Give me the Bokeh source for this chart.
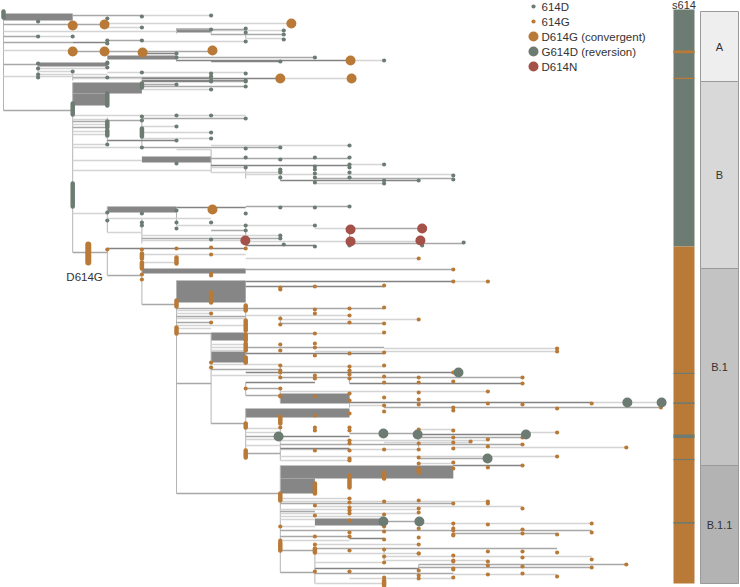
from bokeh.plotting import figure
from bokeh.models import Range1d, ColumnDataSource
from bokeh.embed import file_html
from bokeh.resources import INLINE
from bokeh.core.properties import value

# ---------------- data (x = mutations from root, y = tip order row) ----------------
blocks = [  # y0, y1, x0, x1  (dense polytomy bundles)
    (13, 20, 0, 2), (28, 32, 5, 6), (55, 59, 3, 5), (62, 66, 1, 3), (82, 93, 2, 4),
    (93, 105, 2, 3), (156, 162, 4, 6), (206, 212, 3, 5), (268, 273, 4, 7),
    (280, 302, 5, 7), (332, 340, 6, 7), (351, 362, 6, 7), (393, 403, 8, 10),
    (408, 417, 7, 10), (465, 478, 8, 13), (478, 493, 8, 9), (518, 525, 9, 11),
]

branches = [  # y, x0, x1, shade (0 light, 1 mid, 2 dark)
    # clade A
    (15, 2, 4, 1), (15, 4, 6, 0), (24, 0, 2, 1), (24, 2, 2.92, 1), (23, 2.92, 8.32, 0),
    (27, 2.92, 4, 0), (31, 0, 5, 0), (30, 6, 8.1, 0), (34, 6, 8.1, 1), (38, 7, 8.1, 0),
    (29, 5, 7, 1), (36, 0, 1, 1), (36, 1, 2, 0), (42, 0, 2, 1), (42, 2, 3, 2),
    (40, 3, 4, 1), (41, 4, 7, 0), (50, 0, 1, 0), (50, 1, 2, 0), (51, 2, 2.92, 1),
    (51, 2.92, 4, 1), (51, 4, 6, 1), (53, 4, 5, 2), (57, 5, 9, 1), (60, 5, 10, 2),
    (60, 10, 11, 0), (61, 6, 8, 2), (64, 0, 1, 1), (68, 1, 3, 0), (71, 1, 2, 0),
    (74, 1, 3, 0), (72, 3, 7, 0), (76, 0, 2, 0), (77, 2, 6, 1), (78, 2, 4, 0),
    (78, 4, 8, 2), (78, 8, 10.06, 0), (80, 4, 7, 2),
    # clade B
    (110, 0, 2, 1), (84, 4, 5, 1), (81, 4, 6, 2), (81, 6, 7, 1), (86, 4, 7, 1), (89, 4, 6, 0),
    (115, 2, 4, 0), (115, 4, 7, 0), (118, 4, 7, 1), (119, 2, 3, 0), (121, 2, 3, 1),
    (124, 2, 3, 0), (127, 2, 3, 1), (131, 2, 3, 0), (134, 2, 3, 0), (144, 2, 3, 0),
    (120, 3, 4, 1), (126, 4, 5, 0), (132, 4, 6, 0), (138, 4, 6, 0), (140, 3, 5, 2),
    (147, 2, 4, 0), (147, 4, 8, 1), (149, 5, 6, 0), (145, 6, 10, 0), (158, 6, 10, 1),
    (160, 2, 4, 0), (165, 6, 10, 2), (164, 10, 11, 0), (167, 6, 7, 0), (172, 6, 8, 0),
    (170, 2, 6, 0), (174, 7, 13, 0), (178, 9, 13, 1), (180, 8, 12, 2), (183, 9, 11, 0),
    (213, 2, 3, 0), (207, 5, 7, 2), (206, 7, 10, 1), (218, 3, 6, 0), (225, 5, 9, 0),
    (228, 9, 10.03, 0), (228, 10.03, 12.1, 1), (230, 6, 7, 1), (232, 3, 4, 0),
    (235, 4, 8, 0), (238, 4, 8, 1), (240, 4, 6.99, 0), (241, 6.99, 10.03, 0),
    (241, 10.03, 12.05, 0), (243, 10, 13.3, 1), (245, 7, 9, 2),
    # clade B.1
    (252, 2, 3, 1), (248, 3, 7, 2), (254, 4, 7, 0), (258, 7, 12, 0), (262, 4, 5, 0),
    (269, 7, 13, 1), (275, 3, 4, 1), (281, 7, 13, 2), (281, 13, 14, 0), (286, 7, 11, 2),
    (304, 4, 5, 1), (308, 5, 7, 1), (313, 5, 6, 0), (318, 5, 7, 0), (322, 5, 6, 1),
    (310, 5, 7, 0), (316, 5, 7, 1), (325, 5, 7, 0), (328, 5, 6, 0),
    (308, 7, 11, 1), (315, 7, 10, 0), (319, 8, 12, 0), (323, 8, 11, 1), (333, 5, 6, 1),
    (333, 7, 9, 1), (333, 9, 11, 0), (344, 6, 7, 0), (347, 6, 7, 0), (350, 6, 7, 0),
    (347, 7, 11, 1), (348, 11, 16, 0), (351, 9, 16, 0), (353, 7, 11, 2), (366, 8, 11, 0),
    (364, 6, 8, 0), (369, 6, 8, 1), (375, 6, 8, 0),
    (372, 7, 13.15, 2), (377, 8, 15, 1), (383, 10, 15, 2), (383, 5, 6, 1), (382, 7, 9, 2),
    (388, 7, 8, 1), (391, 8, 14, 0), (395, 7, 8, 1), (402, 10, 17, 2), (402, 17, 18.03, 0),
    (402, 18.03, 19.02, 0), (407, 11, 19, 1), (405, 10, 11, 0), (423, 6, 7, 1),
    (428, 7, 8, 0), (432, 7, 8, 0), (436, 7, 7.95, 1), (436, 7.95, 10, 2),
    (433, 10, 10.98, 1), (433, 10.98, 12, 1), (429, 12, 13, 0), (434, 12, 15.1, 2),
    (432, 15.1, 16, 0), (437, 12, 15, 1), (440, 8, 14, 0), (442, 11, 13.5, 0),
    (444, 8, 15, 1), (447, 13, 18, 0), (449, 8, 12, 0), (448, 8, 10, 2), (456, 8, 16, 0),
    (458, 12, 14, 1), (460, 8, 10, 0), (439, 7, 8, 0), (445, 7, 8, 0), (453, 7, 8, 1),
    # clade B.1.1
    (493, 5, 8, 1), (465, 13, 15, 2), (463, 12, 13, 0), (501, 8, 14, 0), (503, 8, 13, 1),
    (506, 9, 15, 0), (509, 8, 12, 0), (513, 8, 12, 0), (516, 8, 11, 0),
    (521, 10.98, 12.02, 1), (523, 12, 17, 0), (530, 8, 17, 1), (533, 13, 16, 1),
    (538, 10, 11, 2), (526, 8, 9, 0), (536, 8, 10, 1), (540, 8, 10, 0), (550, 8, 9, 1),
    (548, 9, 16, 1), (556, 11, 17, 0), (560, 11, 14, 0), (564, 12, 18, 1),
    (568, 9, 12, 2), (567, 12, 17, 1), (572, 8, 9, 1), (573, 9, 13, 1),
    (574, 13, 16, 0), (578, 10, 13, 0), (583, 9, 11, 0), (498, 8, 10, 0), (511, 8, 9, 1),
    (519, 8, 9, 0), (544, 9, 12, 0), (553, 9, 12, 0), (562, 9, 11, 0),
]

connectors = [  # x, y0, y1
    (0, 12, 110), (2.92, 23, 27), (5, 28, 33), (6, 29, 34), (7, 28, 38), (3, 40, 43),
    (4, 51, 53), (5, 53, 61), (1, 62, 77), (2, 72, 80), (4, 78, 80),
    (2, 82, 252), (4, 81, 89), (3, 117, 144), (4, 115, 147), (6, 149, 172),
    (8, 169, 180), (7, 167, 178), (3, 206, 232), (4, 218, 243), (7, 225, 245),
    (10, 228, 243), (5, 207, 225),
    (3, 248, 275), (4, 254, 304), (5, 280, 493), (7, 305, 330), (8, 315, 324),
    (6, 333, 423), (7, 343, 362), (8, 365, 377), (10, 366, 383), (7, 382, 395),
    (8, 388, 402), (10, 393, 407), (7, 408, 458), (8, 427, 460), (12, 429, 447),
    (8, 465, 572), (9, 548, 583), (11, 548, 560), (12, 564, 568), (13, 523, 535),
]

tips_614D = [
    (4, 16), (6, 15), (1, 21), (3, 18), (4, 27), (6, 29), (7, 28), (7, 32), (8.1, 30),
    (8.1, 34), (8.1, 39), (1, 36), (2, 36), (3, 40), (3, 43), (4, 40), (7, 41), (5, 53),
    (5, 57), (9, 57), (11, 60), (8, 61), (1, 63), (1, 68), (1, 74), (1, 77), (3, 62),
    (3, 63), (3, 67), (2, 71), (4, 72), (6, 73), (7, 73), (3, 77), (6, 76), (6, 80),
    (7, 80), (5, 84), (6, 81), (7, 81), (7, 86), (6, 89), (4, 116), (5, 115), (6, 115),
    (7, 118), (4, 120), (5, 126), (6, 132), (6, 138), (5, 140), (3, 144), (4, 147),
    (7, 148), (8, 147), (10, 145), (5, 163), (7, 157), (8, 159), (9, 157), (10, 157),
    (9, 166), (10, 164), (10, 167), (11, 164), (8, 169), (8, 171), (9, 169), (13, 175),
    (13, 179), (9, 173), (10, 172), (10, 177), (8, 177), (9, 177), (9, 182), (11, 180),
    (12, 180), (11, 183), (7, 167), (8, 172), (3, 212), (4, 213), (5, 210), (7, 213),
    (8, 207), (9, 207), (10, 206), (3, 220), (4, 222), (4, 225), (5, 222), (6, 222),
    (5, 228), (7, 225), (9, 225), (7, 230), (8, 235), (8, 238), (13.3, 242), (6, 239),
    (8.1, 244), (9, 246), (10, 245), (12.1, 245),
]

tips_614G = [
    (3, 249), (4, 249), (5, 248), (6, 247), (7, 248), (6, 254), (12, 258), (13, 269),
    (6, 273), (6, 275), (4, 274), (4, 279), (13, 281), (14, 281), (8, 287), (8, 289),
    (9, 286), (11, 285), (6, 313), (6, 322), (9, 309), (10, 308), (11, 307), (8, 318),
    (9, 313), (10, 315), (12, 319), (8, 324), (10, 322), (11, 323), (9, 333), (11, 332),
    (8, 344), (8, 350), (9, 347), (9, 343), (16, 348), (16, 351), (6, 362), (6, 367),
    (9, 355), (10, 353), (11, 352), (8, 365), (10, 366), (11, 365), (8, 370), (8, 372),
    (10, 370), (10, 374), (7, 362), (13, 372), (8, 377), (9, 375), (9, 378), (10, 378),
    (11, 376), (12, 377), (15, 377), (12, 382), (13, 381), (15, 383), (11, 382),
    (12, 392), (14, 391), (8, 396), (9, 396), (10, 393), (10, 400), (11, 397), (12, 399),
    (12, 404), (14, 403), (15, 404), (17, 403), (13, 407), (13, 410), (16, 408),
    (19, 407), (11, 405), (11, 411), (9, 415), (10, 413), (8, 427), (9, 427), (9, 430),
    (10, 427), (10, 430), (12, 429), (13, 430), (16, 432), (13, 437), (15, 437),
    (10, 440), (14, 439), (13.5, 441), (13, 442), (10, 443), (15, 444), (14, 446),
    (18, 447), (13, 448), (12, 449), (12, 443), (9, 450), (10, 450), (11, 449),
    (12, 457), (16, 456), (10, 458), (7, 388), (8, 388), (8, 395),
    (14, 467), (15, 465), (13, 468), (10, 460), (12, 463), (13, 462), (9, 505), (10, 502),
    (11, 501), (12, 500), (13, 503), (14, 501), (14, 503), (15, 508), (10, 507), (9, 515),
    (10, 513), (10, 510), (10, 520), (11, 514), (12, 508), (12, 512), (11, 526),
    (13, 523), (14, 524), (17, 523), (10, 532), (10, 536), (11, 531), (12, 528),
    (12, 537), (13, 528), (13, 534), (15, 529), (17, 532), (13, 530), (15, 533),
    (16, 534), (13, 535), (11, 539), (10, 550), (11, 549), (12, 553), (13, 555),
    (14, 551), (15, 551), (16, 552), (11, 556), (13, 560), (15, 557), (17, 559),
    (13, 561), (14, 561), (18, 564), (12, 570), (13, 568), (13, 569), (14, 565),
    (15, 566), (17, 567), (9, 571), (10, 571), (15, 573), (14, 574), (13, 577),
    (16, 576), (11, 577), (12, 575), (12, 578), (8, 526), (9, 536), (8, 540),
    (9, 544), (12, 544), (12, 553), (11, 562), (10, 498),
]

stacks_614D = [  # x, y0, y1 : runs of 614D tips sharing a node
    (0, 11, 17), (4, 83, 87), (3, 93, 105), (2, 103, 114), (3, 121, 127), (3, 130, 135),
    (4, 128, 136), (2, 183, 206),
]
stacks_614G = [
    (4, 253, 258), (4, 262, 268), (5, 257, 263), (6, 292, 302), (5, 300, 306),
    (7, 305, 310), (7, 320, 330), (5, 327, 333), (7, 334, 340), (7, 343, 350),
    (7, 357, 362), (8, 416, 423), (7, 423, 427), (7, 450, 457), (9, 483, 493),
    (10, 475, 487), (11, 472, 478), (12, 468, 472), (8, 493, 500), (8, 542, 550),
    (11, 580, 585), (9, 548, 552),
]

d614g_branch = (2.45, 244, 262)      # founding D614G mutation on the B.1 stem
d614g_label = "D614G"

conv_D614G = [(2, 25), (2.92, 24), (2, 51), (2.92, 51), (4.02, 52), (6.04, 50), (8.32, 23),
              (10.03, 60), (8, 78), (10.06, 78), (6.04, 209)]
rev_G614D = [(13.15, 372), (18.03, 402), (19.02, 402), (7.95, 436), (10.98, 433),
             (11.97, 434), (15.1, 434), (13.99, 458), (10.98, 521), (12.02, 521)]
mut_D614N = [(6.99, 240), (10.03, 229), (12.1, 228), (10.03, 241), (12.05, 240)]

legend_labels = ["614D", "614G", "D614G (convergent)", "G614D (reversion)", "D614N"]

s614_base = [(9, 246, "D"), (246, 583, "G")]
s614_stripes = [(50, 52.8, "G"), (77.3, 78.5, "G"), (372.3, 373.5, "D"), (401.8, 403.4, "D"),
                (434, 437.5, "D"), (458.4, 459.6, "D"), (521.6, 523.2, "D")]

clade_names = ["A", "B", "B.1", "B.1.1"]
clade_y0 = [11, 81, 268, 465]
clade_y1 = [81, 268, 465, 583]

# ---------------- styling ----------------
TEAL, ORANGE, RED = "#6d7c72", "#b97a37", "#a4514a"
SHADES = ["#d4d4d4", "#a8a8a8", "#838383"]
CLADE_FILL = ["#eeeeee", "#d8d8d8", "#c3c3c3", "#b3b3b3"]
FONT = value("Liberation Sans")

def X(px):  # layout helper: reference pixel column -> mutation units
    return (px - 3.0) / 34.6

p = figure(width=740, height=587, x_range=Range1d(X(0), X(740)), y_range=Range1d(587, 0),
           output_backend="svg", toolbar_location=None, min_border=0)
p.axis.visible = False
p.grid.visible = False
p.outline_line_color = None
p.background_fill_color = "white"

# dense bundles
p.quad(left=[b[2] for b in blocks], right=[b[3] for b in blocks],
       top=[b[0] for b in blocks], bottom=[b[1] for b in blocks],
       fill_color="#868686", line_color=None)

# vertical connectors
p.segment(x0=[c[0] for c in connectors], y0=[c[1] for c in connectors],
          x1=[c[0] for c in connectors], y1=[c[2] for c in connectors],
          line_color="#b4b4b4", line_width=1)

# horizontal branches
src = ColumnDataSource(dict(y=[b[0] for b in branches], x0=[b[1] for b in branches],
                            x1=[b[2] for b in branches],
                            c=[SHADES[b[3]] for b in branches]))
p.segment(x0="x0", y0="y", x1="x1", y1="y", line_color="c", line_width=1.3, source=src)

# tip stacks
for stacks, col in ((stacks_614D, TEAL), (stacks_614G, ORANGE)):
    p.segment(x0=[s[0] for s in stacks], y0=[s[1] for s in stacks],
              x1=[s[0] for s in stacks], y1=[s[2] for s in stacks],
              line_color=col, line_width=4.5, line_cap="round")
p.segment(x0=[d614g_branch[0]], y0=[d614g_branch[1]], x1=[d614g_branch[0]], y1=[d614g_branch[2]],
          line_color=ORANGE, line_width=6, line_cap="round")
p.text(x=[d614g_branch[0] + 0.42], y=[276], text=[d614g_label], text_font=FONT,
       text_font_size="11.5px", text_color="#333333", text_align="right", text_baseline="middle")

# tips
p.scatter(x=[t[0] for t in tips_614D], y=[t[1] for t in tips_614D], size=4.2,
          fill_color=TEAL, line_color=None)
p.scatter(x=[t[0] for t in tips_614G], y=[t[1] for t in tips_614G], size=4.2,
          fill_color=ORANGE, line_color=None)

# mutation markers
for pts, col in ((conv_D614G, ORANGE), (rev_G614D, TEAL), (mut_D614N, RED)):
    p.scatter(x=[q[0] for q in pts], y=[q[1] for q in pts], size=10,
              fill_color=col, line_color=None)

# legend
leg_y = [6, 21, 36, 51, 66]
leg_size = [4.2, 4.2, 10, 10, 10]
leg_col = [TEAL, ORANGE, ORANGE, TEAL, RED]
p.scatter(x=[X(533)] * 5, y=leg_y, size=leg_size, fill_color=leg_col, line_color=None)
p.text(x=[X(541)] * 5, y=leg_y, text=legend_labels, text_font=FONT, text_font_size="11.5px",
       text_color="#333333", text_baseline="middle", text_align="left")

# s614 column
allele_col = {"D": TEAL, "G": ORANGE}
for segs in (s614_base, s614_stripes):
    p.quad(left=X(673), right=X(694), top=[s[0] for s in segs], bottom=[s[1] for s in segs],
           fill_color=[allele_col[s[2]] for s in segs], line_color=None)
p.text(x=[X(683.5)], y=[4.5], text=["s614"], text_font=FONT, text_font_size="11px",
       text_color="#333333", text_align="center", text_baseline="middle")

# clade boxes
p.quad(left=X(700), right=X(738), top=clade_y0, bottom=clade_y1, fill_color=CLADE_FILL,
       line_color="#9a9a9a", line_width=1)
p.text(x=[X(719)] * 4, y=[(a + b) / 2 for a, b in zip(clade_y0, clade_y1)], text=clade_names,
       text_font=FONT, text_font_size="11px", text_color="#333333", text_align="center",
       text_baseline="middle")

open("out.html", "w").write(file_html(p, INLINE))
